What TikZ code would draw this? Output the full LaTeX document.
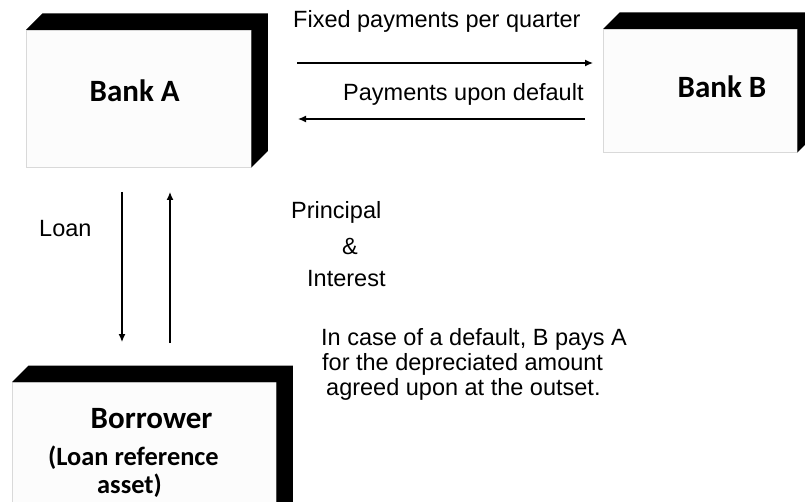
\documentclass[tikz,border=0pt]{standalone}
\usepackage{fontspec}
\setmainfont{Liberation Sans}
\newfontfamily\calib{Carlito}
\usepackage{tikz}
\usetikzlibrary{arrows.meta, positioning, calc}

\tikzset{
  panel/.style={draw=black!15, fill=black!1, inner sep=0, anchor=north west},
  lbl/.style={inner sep=0, anchor=base west, font=\fontsize{23.5}{25}\selectfont},
  ttl/.style={inner sep=0, anchor=base west, font=\calib\bfseries\fontsize{31}{33}\selectfont},
  sub/.style={inner sep=0, anchor=base west, font=\calib\bfseries\fontsize{26.4}{28}\selectfont},
  flow/.style={line width=1.3, -{Latex[length=8,width=7]}}
}

\newcommand{\slab}[1]{%
  \fill (#1.north west) -- ++(\dep,-\dep) -| ($(#1.south east)+(\dep,-\dep)$)
    -- (#1.south east) -- (#1.north east) -- cycle;}

\begin{document}
\begin{tikzpicture}[x=1pt, y=-1pt]
    \def\dep{16.5}
    \useasboundingbox (0,0) rectangle (805,502);

    \node[panel, minimum width=225, minimum height=137] (bankA) at (26,30) {};
    \node[panel, minimum width=194, minimum height=123] (bankB) at (603,29) {};
    \node[panel, minimum width=264, minimum height=150] (borrower) at (12,382) {};
    \slab{bankA}
    \slab{bankB}
    \slab{borrower}

    \node[ttl] (tA) at (89.5,102) {Bank A};
    \node[ttl] (tB) at (677.5,98) {Bank B};
    \node[ttl] (tC) at (90.5,428) {Borrower};
    \node[sub] (tC2) at (48,465) {(Loan reference};
    \node[sub] (tC3) at (97,493) {asset)};

    \coordinate (fixL) at (297,63);
    \coordinate (fixR) at (593,63);
    \coordinate (defR) at (585,119);
    \coordinate (defL) at (298,119);
    \coordinate (loanT) at (122,192);
    \coordinate (loanB) at (122,342);
    \coordinate (repB) at (170,343);
    \coordinate (repT) at (170,192);

    \draw[flow] (fixL) -- (fixR);
    \draw[flow] (defR) -- (defL);
    \draw[flow] (loanT) -- (loanB);
    \draw[flow] (repB) -- (repT);

    \node[lbl] (fixed) at (293,28) {Fixed payments per quarter};
    \node[lbl] (upon) at (343,101) {Payments upon default};
    \node[lbl] (loan) at (39,237) {Loan};
    \node[lbl] (princ) at (291,219) {Principal};
    \node[lbl, anchor=base] (amp) at (350,255) {\&};
    \node[lbl] (inter) at (307,287) {Interest};

    \node[lbl] (note1) at (321,345) {In case of a default, B pays A};
    \node[lbl] (note2) at (322,370) {for the depreciated amount};
    \node[lbl] (note3) at (326,395) {agreed upon at the outset.};
\end{tikzpicture}
\end{document}
